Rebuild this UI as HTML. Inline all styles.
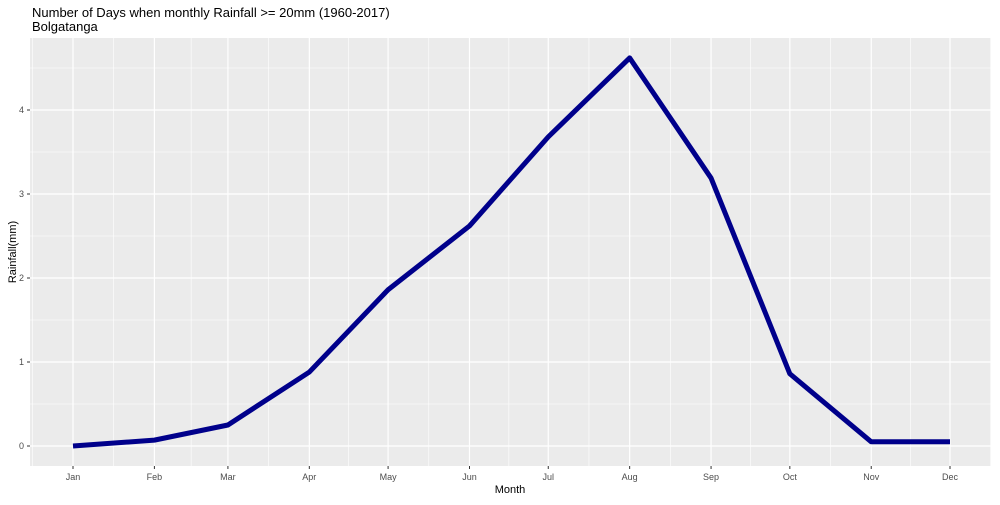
<!DOCTYPE html>
<html><head><meta charset="utf-8"><style>
body{margin:0;background:#fff;}
svg text{font-family:"Liberation Sans",Arial,sans-serif;}
</style></head><body>
<svg width="1000" height="500" id="c">
<text x="32" y="17" font-size="13" fill="#000">Number of Days when monthly Rainfall &gt;= 20mm (1960-2017)</text>
<text x="32" y="31" font-size="13" fill="#000">Bolgatanga</text>
<rect x="30" y="38" width="961" height="428" fill="#ebebeb"/>
<g id="grid"></g>
<g id="ticks"></g>
<polyline id="line" fill="none" stroke="#00008b" stroke-width="5" stroke-linejoin="round"/>
<text x="510" y="493" font-size="11" text-anchor="middle">Month</text>
<text transform="translate(16,252) rotate(-90)" font-size="11" text-anchor="middle">Rainfall(mm)</text>
</svg>
<script>
const months=["Jan","Feb","Mar","Apr","May","Jun","Jul","Aug","Sep","Oct","Nov","Dec"];
const values=[0,0.07,0.25,0.88,1.86,2.62,3.68,4.62,3.19,0.86,0.05,0.05];
const dayOffsets=[0,31,59,90,120,151,181,212,243,273,304,334];
const yTicks=[0,1,2,3,4];
const ns="http://www.w3.org/2000/svg";
const X=d=>73+d*(877/334);
const Y=v=>446-v*84;
const grid=document.getElementById('grid'),ticks=document.getElementById('ticks');
function ln(p,x1,y1,x2,y2,s,w){const l=document.createElementNS(ns,'line');l.setAttribute('x1',x1);l.setAttribute('y1',y1);l.setAttribute('x2',x2);l.setAttribute('y2',y2);l.setAttribute('stroke',s);l.setAttribute('stroke-width',w);p.appendChild(l);return l;}
function tx(x,y,t,a){const e=document.createElementNS(ns,'text');e.setAttribute('x',x);e.setAttribute('y',y);e.setAttribute('font-size','9');e.setAttribute('fill','#4d4d4d');e.setAttribute('text-anchor',a);e.textContent=t;ticks.appendChild(e);return e;}
// minor y
for(let v=-0.5;v<=4.5;v+=1){const y=Y(v);if(y>38&&y<466){const g=ln(grid,30,y,991,y,'#fff',0.6);

}}
// minor x
const mids=[-15.5].concat(dayOffsets.map((d,i)=>i<11?(d+dayOffsets[i+1])/2:d+15.5));
mids.forEach(d=>{const x=X(d);if(x>30&&x<991){const g=ln(grid,x,38,x,466,'#fff',0.6);

}});
yTicks.forEach(v=>{const y=Y(v);const g=ln(grid,30,y,991,y,'#fff',1.2);


ln(ticks,27,y,30,y,'#333',1);
const t=tx(24,y+3,String(v),'end');

});
months.forEach((m,i)=>{const x=X(dayOffsets[i]);const g=ln(grid,x,38,x,466,'#fff',1.2);


ln(ticks,x,466,x,469,'#333',1);
const t=tx(x,480,m,'middle');

});
document.getElementById('line').setAttribute('points',values.map((v,i)=>X(dayOffsets[i])+','+Y(v)).join(' '));
</script>
</body></html>
